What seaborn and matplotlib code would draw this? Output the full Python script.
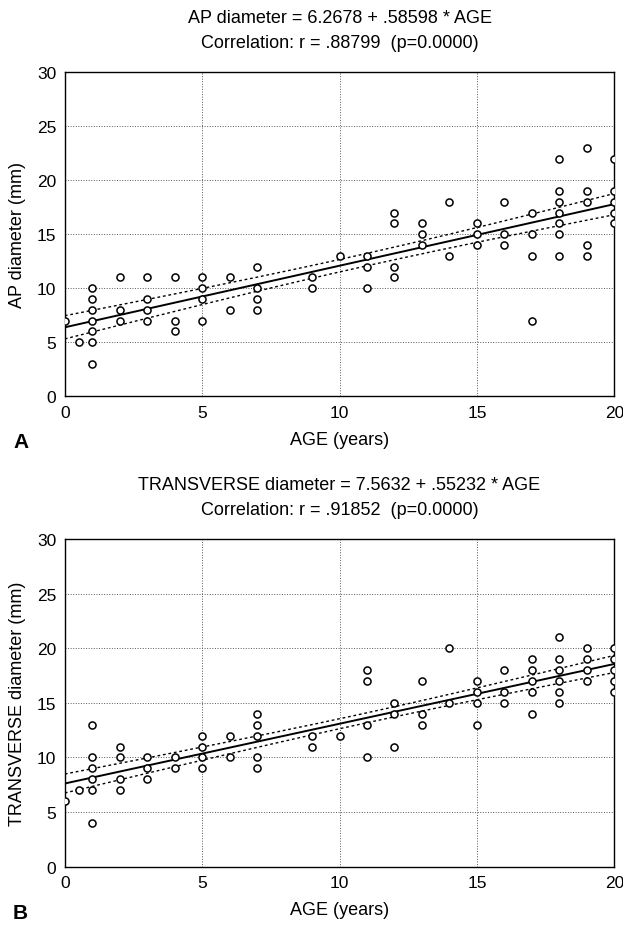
import numpy as np
import pandas as pd
import matplotlib
matplotlib.use("Agg")
import matplotlib.pyplot as plt
import seaborn as sns

# AP diameter (mm) by age (years)
ap_age = [0, 0.5,
          1, 1, 1, 1, 1, 1, 1,
          2, 2, 2,
          3, 3, 3, 3,
          4, 4, 4,
          5, 5, 5, 5,
          6, 6,
          7, 7, 7, 7,
          9, 9,
          10,
          11, 11, 11,
          12, 12, 12, 12,
          13, 13, 13,
          14, 14,
          15, 15, 15,
          16, 16, 16,
          17, 17, 17, 17,
          18, 18, 18, 18, 18, 18, 18,
          19, 19, 19, 19, 19,
          20, 20, 20, 20, 20]
ap_mm = [7, 5,
         10, 9, 8, 7, 6, 5, 3,
         11, 8, 7,
         11, 9, 8, 7,
         11, 7, 6,
         11, 10, 9, 7,
         11, 8,
         12, 10, 9, 8,
         11, 10,
         13,
         13, 12, 10,
         17, 16, 12, 11,
         16, 15, 14,
         18, 13,
         16, 15, 14,
         18, 15, 14,
         17, 15, 13, 7,
         22, 19, 18, 17, 16, 15, 13,
         23, 19, 18, 14, 13,
         22, 19, 18, 17, 16]

# TRANSVERSE diameter (mm) by age (years)
tr_age = [0, 0.5,
          1, 1, 1, 1, 1, 1,
          2, 2, 2, 2,
          3, 3, 3,
          4, 4,
          5, 5, 5, 5,
          6, 6,
          7, 7, 7, 7, 7,
          9, 9,
          10,
          11, 11, 11, 11,
          12, 12, 12,
          13, 13, 13,
          14, 14,
          15, 15, 15, 15,
          16, 16, 16,
          17, 17, 17, 17, 17,
          18, 18, 18, 18, 18, 18,
          19, 19, 19, 19,
          20, 20, 20, 20, 20]
tr_mm = [6, 7,
         13, 10, 9, 8, 7, 4,
         11, 10, 8, 7,
         10, 9, 8,
         10, 9,
         12, 11, 10, 9,
         12, 10,
         14, 13, 12, 10, 9,
         12, 11,
         12,
         18, 17, 13, 10,
         15, 14, 11,
         17, 14, 13,
         20, 15,
         17, 16, 15, 13,
         18, 16, 15,
         19, 18, 17, 16, 14,
         21, 19, 18, 17, 16, 15,
         20, 19, 18, 17,
         20, 19, 18, 17, 16]

titles = ["AP diameter = 6.2678 + .58598 * AGE\nCorrelation: r = .88799  (p=0.0000)",
          "TRANSVERSE diameter = 7.5632 + .55232 * AGE\nCorrelation: r = .91852  (p=0.0000)"]
ylabels = ["AP diameter (mm)", "TRANSVERSE diameter (mm)"]
panels = ["A", "B"]

sns.set_style("white")
plt.rcParams['font.family'] = ['Liberation Sans', 'DejaVu Sans']
plt.rcParams['text.color'] = 'black'
plt.rcParams['axes.labelcolor'] = 'black'
plt.rcParams['xtick.color'] = 'black'
plt.rcParams['ytick.color'] = 'black'


def fit_band(x, y):
    # least squares line with 95% band for the mean
    x = np.asarray(x, float)
    y = np.asarray(y, float)
    n = len(x)
    b, a = np.polyfit(x, y, 1)
    s = np.sqrt(np.sum((y - (a + b * x)) ** 2) / (n - 2))
    sxx = np.sum((x - x.mean()) ** 2)
    xs = np.linspace(0, 20, 200)
    yh = a + b * xs
    half = 1.99 * s * np.sqrt(1 / n + (xs - x.mean()) ** 2 / sxx)
    return pd.DataFrame({"age": xs, "fit": yh, "lo": yh - half, "hi": yh + half})


def draw(ax, x, y, title, ylabel):
    df = pd.DataFrame({"age": x, "mm": y})
    band = fit_band(x, y)
    sns.lineplot(data=band, x="age", y="fit", ax=ax, color="black", lw=1.4)
    sns.lineplot(data=band, x="age", y="lo", ax=ax, color="black", lw=1.0, ls=(0, (2, 2)))
    sns.lineplot(data=band, x="age", y="hi", ax=ax, color="black", lw=1.0, ls=(0, (2, 2)))
    sns.scatterplot(data=df, x="age", y="mm", ax=ax, marker="o", s=26,
                    facecolor="white", edgecolor="black", linewidth=1.1, zorder=3)
    ax.set_xlim(0, 20)
    ax.set_ylim(0, 30)
    ax.set_xticks([0, 5, 10, 15, 20])
    ax.set_yticks([0, 5, 10, 15, 20, 25, 30])
    ax.grid(True, ls=":", color="0.35", lw=0.7)
    ax.tick_params(labelsize=12.5, length=0, pad=6)
    for sp in ax.spines.values():
        sp.set_color("black")
        sp.set_linewidth(1.0)
    ax.set_xlabel("AGE (years)", fontsize=13, labelpad=8)
    ax.set_ylabel(ylabel, fontsize=13, labelpad=8)
    ax.set_title(title, fontsize=13, linespacing=1.65, pad=18)


fig = plt.figure(figsize=(6.23, 9.28), dpi=100)
ax1 = fig.add_axes([0.104, 0.572, 0.882, 0.349])
ax2 = fig.add_axes([0.104, 0.065, 0.882, 0.353])

draw(ax1, ap_age, ap_mm, titles[0], ylabels[0])
draw(ax2, tr_age, tr_mm, titles[1], ylabels[1])

fig.text(0.021, 1 - 443 / 928, panels[0], fontsize=15, fontweight="bold", va="center")
fig.text(0.021, 1 - 914 / 928, panels[1], fontsize=15, fontweight="bold", va="center")

fig.savefig("out.png", dpi=100)
